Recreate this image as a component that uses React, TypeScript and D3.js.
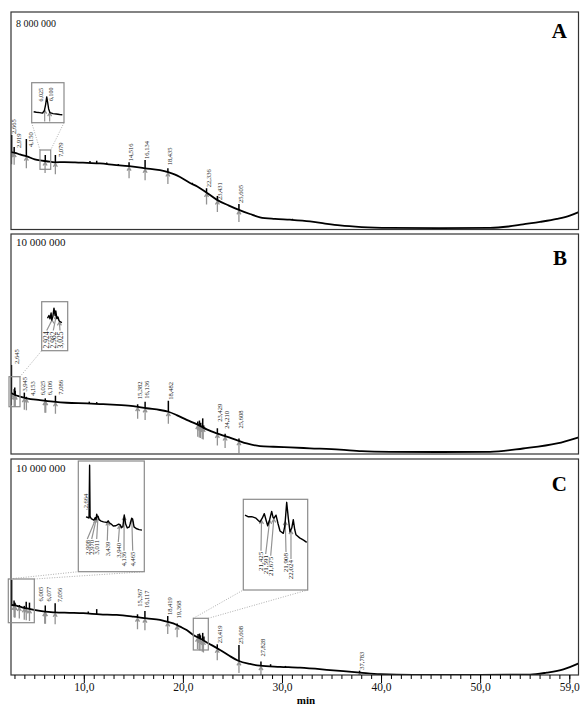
import React from 'react';
import * as d3 from 'd3';

type P = [number, number];
type Peak = [number, string];

// ---------------- data ----------------
const timeDomain: P = [2.6, 60];
const majorTicks = [10, 20, 30, 40, 50, 59];
const majorTickLabels = ['10,0', '20,0', '30,0', '40,0', '50,0', '59,0'];
const minorTicks = d3.range(3, 60);
const xAxisTitle = 'min';

// Panel A (intensity in millions)
const maxA = 8;
const maxLabelA = '8 000 000';
const baselineA: P[] = [
  [2.6, 2.85], [3.0, 2.82], [3.5, 2.76], [4.2, 2.69], [5.0, 2.58], [5.53, 2.54], [6.2, 2.51], [7.04, 2.47],
  [8.0, 2.48], [9.06, 2.47], [10.3, 2.45], [11.58, 2.43], [13.0, 2.38], [14.51, 2.33], [16.13, 2.25],
  [17.64, 2.18], [18.45, 2.11], [19.1, 2.03], [19.66, 1.93], [20.67, 1.71], [21.4, 1.58], [22.18, 1.40],
  [23.39, 1.09], [24.6, 0.88], [25.61, 0.72], [26.72, 0.57], [27.73, 0.45], [29.24, 0.39], [30.76, 0.36],
  [32.78, 0.30], [34.3, 0.22], [35.8, 0.15], [38.0, 0.09], [40.86, 0.06], [45.9, 0.05], [50.95, 0.06],
  [52.8, 0.11], [54.28, 0.19], [56.0, 0.28], [57.71, 0.39], [59.0, 0.51], [59.9, 0.64],
];
const spikesA: P[] = [
  [2.665, 3.48], [2.919, 3.03], [4.15, 3.33], [6.06, 2.74], [7.079, 2.74], [10.57, 2.52], [11.25, 2.53],
  [12.26, 2.46], [13.43, 2.41], [14.516, 2.47], [16.134, 2.56], [18.435, 2.25], [20.9, 1.72],
  [22.336, 1.52], [23.431, 1.23], [25.605, 0.94], [31.0, 0.40],
];
const peaksA: Peak[] = [
  [2.665, '2,665'], [2.919, '2,919'], [4.15, '4,150'], [6.04, ''], [7.079, '7,079'], [14.516, '14,516'],
  [16.134, '16,134'], [18.435, '18,435'], [22.336, '22,336'], [23.431, '23,431'], [25.605, '25,605'],
];

// Panel B
const maxB = 10;
const maxLabelB = '10 000 000';
const baselineB: P[] = [
  [2.6, 2.78], [2.67, 2.76], [3.0, 2.68], [3.51, 2.61], [4.18, 2.53], [5.52, 2.45], [6.87, 2.38],
  [8.22, 2.33], [10.24, 2.30], [11.58, 2.27], [13.27, 2.23], [14.94, 2.18], [16.29, 2.08], [17.64, 2.0],
  [18.48, 1.92], [19.32, 1.77], [20.33, 1.55], [21.34, 1.36], [22.35, 1.12], [23.36, 0.94], [24.37, 0.79],
  [25.58, 0.60], [26.39, 0.48], [27.73, 0.36], [29.08, 0.33], [30.76, 0.30], [32.78, 0.26], [35.8, 0.20],
  [38.0, 0.13], [40.86, 0.10], [45.9, 0.09], [50.95, 0.10], [54.28, 0.25], [57.71, 0.48], [59.9, 0.76],
];
const spikesB: P[] = [
  [2.645, 4.05], [2.93, 2.95], [2.98, 3.02], [3.025, 2.88], [3.945, 2.79], [4.153, 2.6], [6.06, 2.53],
  [7.086, 2.65], [10.5, 2.38], [11.25, 2.36], [15.382, 2.26], [16.136, 2.38], [18.482, 2.42],
  [21.45, 1.48], [21.62, 1.52], [21.75, 1.42], [21.95, 1.62], [22.05, 1.30], [23.429, 1.17],
  [24.21, 0.92], [25.608, 0.71],
];
const peaksB: Peak[] = [
  [2.645, '2,645'], [2.924, ''], [2.982, ''], [3.025, ''], [3.945, '3,945'], [4.153, '4,153'],
  [6.025, '6,025'], [6.106, '6,106'], [7.086, '7,086'], [15.382, '15,382'], [16.136, '16,136'],
  [18.482, '18,482'], [21.45, ''], [21.6, ''], [21.72, ''], [21.9, ''], [22.0, ''], [23.429, '23,429'],
  [24.21, '24,210'], [25.608, '25,608'],
];

// Panel C
const maxC = 10;
const maxLabelC = '10 000 000';
const baselineC: P[] = [
  [2.6, 3.24], [3.0, 3.22], [3.51, 3.16], [4.2, 3.08], [4.92, 3.01], [6.03, 2.93], [7.04, 2.90],
  [8.5, 2.88], [9.9, 2.86], [11.58, 2.81], [13.27, 2.78], [14.94, 2.70], [16.3, 2.62], [17.64, 2.55],
  [18.32, 2.47], [18.98, 2.39], [19.66, 2.24], [20.33, 2.08], [21.0, 1.85], [21.68, 1.69], [22.52, 1.47],
  [23.7, 1.16], [24.6, 0.90], [25.54, 0.66], [26.72, 0.51], [27.73, 0.43], [29.75, 0.38], [31.77, 0.34],
  [34.8, 0.23], [37.83, 0.11], [39.85, 0.04], [43.18, 0.01], [49.94, 0.01], [54.99, 0.02], [56.67, 0.11],
  [58.35, 0.26], [59.9, 0.54],
];
const spikesC: P[] = [
  [2.664, 4.40], [2.908, 3.45], [2.97, 3.36], [3.011, 3.32], [3.439, 3.24], [3.94, 3.20], [4.136, 3.39],
  [4.465, 3.35], [6.06, 3.22], [7.056, 3.32], [10.4, 2.94], [11.25, 3.05], [15.367, 2.81], [16.117, 2.96],
  [18.419, 2.73], [19.368, 2.39], [21.48, 1.90], [21.63, 1.92], [21.72, 1.84], [21.95, 1.95],
  [22.07, 1.78], [23.419, 1.42], [25.608, 1.39], [27.828, 0.62], [28.8, 0.50], [30.3, 0.42],
  [37.783, 0.20],
];
const peaksC: Peak[] = [
  [2.908, ''], [2.97, ''], [3.011, ''], [3.439, ''], [3.94, ''], [4.136, ''], [4.465, ''],
  [6.005, '6,005'], [6.077, '6,077'], [7.056, '7,056'], [15.367, '15,367'], [16.117, '16,117'],
  [18.419, '18,419'], [19.368, '19,368'], [21.425, ''], [21.591, ''], [21.675, ''], [21.908, ''],
  [22.024, ''], [23.419, '23,419'], [25.608, '25,608'], [27.828, '27,828'], [37.783, '37,783'],
];

// Insets (zoomed traces)
const insetATrace: P[] = [
  [5.86, 2.45], [5.9, 2.445], [5.95, 2.44], [5.99, 2.435], [6.02, 2.46], [6.04, 2.53], [6.056, 2.61],
  [6.07, 2.55], [6.085, 2.48], [6.105, 2.44], [6.15, 2.43], [6.2, 2.425], [6.25, 2.42], [6.29, 2.418],
];
const insetAPeaks: Peak[] = [[6.025, '6,025'], [6.1, '6,100']];

const insetBTrace: P[] = [
  [2.86, 2.86], [2.88, 2.95], [2.895, 2.84], [2.91, 3.03], [2.92, 2.80], [2.935, 2.92], [2.95, 3.19],
  [2.965, 2.95], [2.975, 3.10], [2.99, 2.85], [3.005, 2.90], [3.02, 2.78], [3.04, 2.74], [3.06, 2.72],
];
const insetBPeaks: Peak[] = [[2.924, '2,924'], [2.982, '2,982'], [3.025, '3,025']];

const insetCLTrace: P[] = [
  [2.50, 3.98], [2.58, 3.96], [2.63, 3.94], [2.655, 5.85], [2.675, 4.0], [2.72, 3.92], [2.76, 3.90],
  [2.84, 3.86], [2.89, 3.95], [2.93, 3.88], [2.96, 4.08], [2.99, 3.98], [3.02, 4.00], [3.06, 3.88],
  [3.15, 3.83], [3.25, 3.80], [3.32, 3.79], [3.40, 3.78], [3.45, 3.84], [3.50, 3.77], [3.58, 3.72],
  [3.67, 3.65], [3.78, 3.66], [3.90, 3.72], [3.96, 3.70], [4.02, 3.60], [4.08, 3.62], [4.14, 4.05],
  [4.2, 3.72], [4.27, 3.58], [4.36, 3.62], [4.46, 3.93], [4.50, 3.9], [4.56, 3.62], [4.65, 3.56],
  [4.78, 3.52], [4.9, 3.50],
];
const insetCLPeaks: Peak[] = [
  [2.908, '2,908'], [2.97, '2,970'], [3.011, '3,011'], [3.439, '3,439'], [3.94, '3,940'],
  [4.136, '4,136'], [4.465, '4,465'],
];
const insetCLTopLabel: Peak = [2.664, '2,664'];

const insetCRTrace: P[] = [
  [21.09, 1.99], [21.15, 1.97], [21.226, 1.97], [21.27, 1.96], [21.313, 1.95], [21.36, 1.92],
  [21.394, 1.90], [21.44, 1.95], [21.482, 2.01], [21.52, 1.92], [21.551, 1.85], [21.59, 1.93],
  [21.632, 2.04], [21.66, 1.96], [21.679, 1.95], [21.72, 1.99], [21.76, 1.88], [21.801, 1.78],
  [21.868, 1.75], [21.9, 1.85], [21.937, 2.16], [21.97, 1.95], [22.004, 1.77], [22.04, 1.82],
  [22.071, 1.93], [22.1, 1.80], [22.126, 1.73], [22.2, 1.69], [22.28, 1.66], [22.344, 1.63],
];
const insetCRPeaks: Peak[] = [
  [21.425, '21,425'], [21.591, '21,591'], [21.675, '21,675'], [21.908, '21,908'], [22.024, '22,024'],
];

// ---------------- layout / style ----------------
const FONT = '"Liberation Serif", "Times New Roman", serif';
const FRAME_L = 11;
const FRAME_R = 578.5;
const ARROW = '#939393';
const BOXC = '#8a8a8a';
const LABEL_FS = 6.5;

type Nudge = Record<string, [number, number]>;
const nudgesA: Nudge = { '2,919': [3, 2], '4,150': [2, 9], '7,079': [3.5, 3], '18,435': [0, -2], '23,431': [0, 5] };
const nudgesB: Nudge = {
  '2,645': [3, 0], '3,945': [-2, 0], '4,153': [4, 0], '6,025': [-4, -2], '6,106': [1.6, -2], '7,086': [3.5, 0],
  '15,382': [0, -4], '16,136': [0, -2], '23,429': [0, -5.6], '24,210': [0, -4], '25,608': [0, -9],
};
const nudgesC: Nudge = {
  '6,005': [-5.7, -3], '6,077': [1, -3], '7,056': [3, 0], '15,367': [0, -6.6], '16,117': [0, -2],
  '19,368': [0, -4], '27,828': [0, -4],
};

const panels = [
  { id: 'A', top: 12, bottom: 229.5, max: maxA, maxLabel: maxLabelA, labelSize: 10, labelY: 26.5, letterY: 38.3,
    baseline: baselineA, spikes: spikesA, peaks: peaksA, nudges: nudgesA },
  { id: 'B', top: 234, bottom: 454, max: maxB, maxLabel: maxLabelB, labelSize: 11, labelY: 246, letterY: 265,
    baseline: baselineB, spikes: spikesB, peaks: peaksB, nudges: nudgesB },
  { id: 'C', top: 459, bottom: 675, max: maxC, maxLabel: maxLabelC, labelSize: 11, labelY: 472, letterY: 491,
    baseline: baselineC, spikes: spikesC, peaks: peaksC, nudges: nudgesC },
];

type Inset = {
  id: string;
  box: [number, number, number, number];
  src: [number, number, number, number];
  links: [number, number, number, number][];
  tDom: P; iDom: P; xr: P; yr: P;
  trace: P[]; peaks: Peak[];
  mode: 'above' | 'below';
  lab: P[];
  stemEnd?: number;
  fs: number;
};

const insets: Inset[] = [
  { id: 'iA', box: [31.7, 82.7, 64, 122.7], src: [40, 150, 50.7, 169.3],
    links: [[31.7, 122.7, 40, 150], [64, 122.7, 50.7, 150]],
    tDom: [5.85, 6.3], iDom: [2.35, 2.75], xr: [33, 63], yr: [121, 84],
    trace: insetATrace, peaks: insetAPeaks, mode: 'above', lab: [[40.7, 101.5], [50.7, 101]], stemEnd: 121.5, fs: 6 },
  { id: 'iB', box: [41.7, 301.7, 67.7, 350.7], src: [9, 376.7, 20, 406.7],
    links: [[20, 376.7, 41.7, 350.7]],
    tDom: [2.78, 3.14], iDom: [1.8, 3.4], xr: [41.7, 67.7], yr: [350.7, 301.7],
    trace: insetBTrace, peaks: insetBPeaks, mode: 'below', lab: [[46.7, 331.5], [53.3, 331.5], [60, 331.5]], fs: 7.5 },
  { id: 'iCL', box: [78.3, 461, 144.3, 571.7], src: [8.3, 579, 34.3, 622.7],
    links: [[8.3, 579, 78.3, 571.7], [34.3, 579, 144.3, 571.7]],
    tDom: [2.17, 5.0], iDom: [2.0, 6.0], xr: [78.3, 144.3], yr: [571.7, 461],
    trace: insetCLTrace, peaks: insetCLPeaks, mode: 'below',
    lab: [[87.3, 540], [91.7, 540], [96.7, 540], [107.3, 541.7], [118.3, 543], [124, 551.7], [132.7, 551.7]], fs: 6.5 },
  { id: 'iCR', box: [243.3, 499.3, 307.7, 590], src: [193.3, 618.3, 208.3, 650],
    links: [[193.3, 618.3, 243.3, 590], [208.3, 618.3, 307.7, 590]],
    tDom: [21.055, 22.364], iDom: [1.0, 2.2], xr: [243.3, 307.7], yr: [590, 499.3],
    trace: insetCRTrace, peaks: insetCRPeaks, mode: 'below',
    lab: [[261, 551.7], [265.7, 555], [270.7, 556.7], [286, 553], [291, 560]], fs: 7 },
];

// ---------------- helpers ----------------
const bis = d3.bisector((d: P) => d[0]).left;
function valueAt(pts: P[], t: number): number {
  const i = bis(pts, t);
  if (i <= 0) return pts[0][1];
  if (i >= pts.length) return pts[pts.length - 1][1];
  const [t0, v0] = pts[i - 1];
  const [t1, v1] = pts[i];
  return v0 + ((v1 - v0) * (t - t0)) / (t1 - t0);
}
function spikeTop(spikes: P[], t: number): number | null {
  let best: P | null = null;
  let bd = 0.09;
  for (const s of spikes) {
    const d = Math.abs(s[0] - t);
    if (d < bd) { bd = d; best = s; }
  }
  return best ? best[1] : null;
}
function arrowPath(x1: number, y1: number, x2: number, y2: number) {
  return `M${x1 - 2},${y1 + 3.4}L${x1},${y1}L${x1 + 2},${y1 + 3.4}M${x1},${y1}L${x2},${y2}`;
}

const x = d3.scaleLinear().domain(timeDomain).range([11, 579.7]);

function Panel({ p }: { p: (typeof panels)[number] }) {
  const y = d3.scaleLinear().domain([0, p.max]).range([p.bottom, p.top]);
  const line = d3.line<P>().x(d => x(d[0])).y(d => y(d[1])).curve(d3.curveMonotoneX);
  const clipId = `clip-${p.id}`;
  return (
    <g>
      <defs>
        <clipPath id={clipId}>
          <rect x={FRAME_L} y={p.top} width={FRAME_R - FRAME_L} height={p.bottom - p.top} />
        </clipPath>
      </defs>
      <text x={16} y={p.labelY} fontSize={p.labelSize} fill="#111">{p.maxLabel}</text>
      <text x={567} y={p.letterY} fontSize={21} fontWeight="bold" textAnchor="end" fill="#000">{p.id}</text>
      <g clipPath={`url(#${clipId})`}>
        {p.peaks.map(([t], i) => {
          const bx = x(t);
          const by = y(valueAt(p.baseline, t)) + 1;
          return <path key={i} d={arrowPath(bx, by, bx, by + 11)} stroke={ARROW} strokeWidth={1.3} fill="none" />;
        })}
        <path d={line(p.baseline) || ''} fill="none" stroke="#000" strokeWidth={1.8} strokeLinejoin="round" />
        {p.spikes.map(([t, v], i) => (
          <line key={i} x1={x(t)} x2={x(t)} y1={y(valueAt(p.baseline, t))} y2={y(v)} stroke="#000" strokeWidth={1.5} />
        ))}
      </g>
      {p.peaks.filter(d => d[1] !== '').map(([t, lab], i) => {
        const base = valueAt(p.baseline, t);
        const top = spikeTop(p.spikes, t);
        const v = top !== null ? Math.max(top, base) : base;
        const n = p.nudges[lab] || [0, 0];
        const cx = x(t) + 2 + n[0];
        const yb = y(v) - 1 + n[1];
        return (
          <text key={i} transform={`translate(${cx},${yb}) rotate(-90)`} dy="0.35em" fontSize={LABEL_FS} fill="#222">{lab}</text>
        );
      })}
      <rect x={FRAME_L} y={p.top} width={FRAME_R - FRAME_L} height={p.bottom - p.top} fill="none" stroke="#333" strokeWidth={1.2} />
    </g>
  );
}

function InsetView({ s }: { s: Inset }) {
  const ix = d3.scaleLinear().domain(s.tDom).range(s.xr);
  const iy = d3.scaleLinear().domain(s.iDom).range(s.yr);
  const line = d3.line<P>().x(d => ix(d[0])).y(d => iy(d[1]));
  const [x0, y0, x1, y1] = s.box;
  const clipId = `clip-${s.id}`;
  return (
    <g>
      <defs>
        <clipPath id={clipId}><rect x={x0} y={y0} width={x1 - x0} height={y1 - y0} /></clipPath>
      </defs>
      {s.links.map((l, i) => (
        <line key={i} x1={l[0]} y1={l[1]} x2={l[2]} y2={l[3]} stroke="#9a9a9a" strokeWidth={0.8} strokeDasharray="1,1.5" />
      ))}
      <rect x={s.src[0]} y={s.src[1]} width={s.src[2] - s.src[0]} height={s.src[3] - s.src[1]} fill="none" stroke={BOXC} strokeWidth={1.2} />
      <rect x={x0} y={y0} width={x1 - x0} height={y1 - y0} fill="#fff" stroke={BOXC} strokeWidth={1.2} />
      <g clipPath={`url(#${clipId})`}>
        {s.peaks.map(([t], i) => {
          const ax = ix(t);
          const ay = iy(valueAt(s.trace, t)) + 1;
          const [lx, ly] = s.lab[i];
          const d = s.mode === 'below' ? arrowPath(ax, ay, lx, ly - 1) : arrowPath(ax, ay, ax, s.stemEnd || y1);
          return <path key={i} d={d} stroke={ARROW} strokeWidth={1.2} fill="none" />;
        })}
        <path d={line(s.trace) || ''} fill="none" stroke="#000" strokeWidth={1.4} strokeLinejoin="round" />
      </g>
      {s.peaks.map(([, lab], i) => {
        const [lx, ly] = s.lab[i];
        return (
          <text key={i} transform={`translate(${lx},${ly}) rotate(-90)`} dy="0.35em" fontSize={s.fs} fill="#222"
            textAnchor={s.mode === 'below' ? 'end' : 'start'}>{lab}</text>
        );
      })}
    </g>
  );
}

export default function App() {
  const axisY = 675;
  const cl = insets[2];
  const clx = d3.scaleLinear().domain(cl.tDom).range(cl.xr);
  const cly = d3.scaleLinear().domain(cl.iDom).range(cl.yr);
  const topT = insetCLTopLabel[0];
  return (
    <svg width={580} height={706} style={{ position: 'absolute', left: 0, top: 0, background: '#fff' }} fontFamily={FONT}>
      <rect width={580} height={706} fill="#fff" />
      {panels.map(p => <Panel key={p.id} p={p} />)}
      {insets.map(s => <InsetView key={s.id} s={s} />)}
      <line x1={clx(topT) - 3.5} y1={509.5} x2={clx(topT) - 0.5} y2={cly(valueAt(insetCLTrace, topT - 0.03)) - 1} stroke="#666" strokeWidth={0.6} />
      <text transform={`translate(${clx(topT) - 3.8},${508.3}) rotate(-90)`} dy="0.35em" fontSize={6.5} fill="#222">{insetCLTopLabel[1]}</text>
      {minorTicks.map(t => (
        <line key={`m${t}`} x1={x(t)} x2={x(t)} y1={axisY} y2={axisY + 4} stroke="#000" strokeWidth={1} />
      ))}
      {majorTicks.map((t, i) => (
        <g key={`M${t}`}>
          <line x1={x(t)} x2={x(t)} y1={axisY} y2={axisY + 8} stroke="#000" strokeWidth={1} />
          <text x={x(t)} y={690.5} fontSize={11.5} textAnchor="middle" fill="#111">{majorTickLabels[i]}</text>
        </g>
      ))}
      <text x={306} y={704} fontSize={11} fontWeight="bold" textAnchor="middle" fill="#000">{xAxisTitle}</text>
    </svg>
  );
}
